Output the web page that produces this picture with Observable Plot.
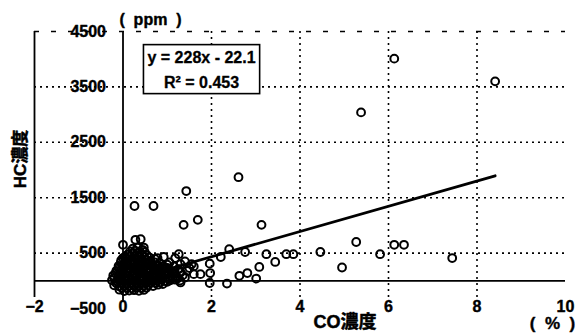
<!DOCTYPE html>
<html><head><meta charset="utf-8">
<script src="https://cdn.jsdelivr.net/npm/d3@7"></script>
<script src="https://cdn.jsdelivr.net/npm/@observablehq/plot@0.6"></script>
<style>
body{margin:0;background:#fff;}
#chart{position:relative;width:585px;height:333px;}
</style></head><body><div id="chart"></div>
<script>
// Scattered points (CO %, HC ppm)
const outlierCO = [6.13,8.41,5.38,2.61,1.43,0.26,0.69,1.37,1.69,3.13,5.27,6.13,6.35,4.46,3.69,3.85,5.81,4.95,7.44,3.24,3.44,3.08,2.76,2.81,2.63,3.01,2.35,2.40,2.21,1.96,1.97,1.96,1.75,1.60,1.26,1.18,0.92,0.78,0.00,0.28,0.40,0.47,0.00,1.30,1.30,1.45];
const outlierHC = [4010,3600,3040,1870,1620,1350,1350,1010,1100,1010,700,650,650,520,480,480,480,240,410,480,340,250,520,140,90,40,-50,570,430,310,140,-40,120,120,480,410,430,410,650,740,750,600,410,300,-30,180];
// Dense cluster near the origin [CO, HC]
const clusterPoints = [
  [-0.08,-160],[0.03,-185],[0.14,-175],[0.25,-170],[0.36,-180],[0.47,-165],
  [-0.02,-130],[0.09,-125],[0.2,-135],[0.31,-120],[0.42,-130],[0.53,-125],
  [-0.2,-80],[-0.09,-100],[0.02,-90],[0.13,-95],[0.24,-85],[0.35,-100],[0.46,-90],[0.57,-80],[0.68,-95],[0.79,-70],[0.9,-60],
  [-0.15,-45],[-0.04,-40],[0.07,-50],[0.18,-45],[0.29,-40],[0.4,-50],[0.51,-45],[0.62,-35],[0.73,-40],[0.84,-30],[1.0,-20],
  [-0.25,10],[-0.14,-10],[-0.03,5],[0.08,-5],[0.19,15],[0.3,0],[0.41,10],[0.52,-10],[0.63,5],[0.74,0],[0.85,15],[0.96,-5],[1.07,10],[1.18,20],[1.29,5],
  [-0.2,50],[-0.09,45],[0.02,55],[0.13,40],[0.24,50],[0.35,45],[0.46,55],[0.57,40],[0.68,50],[0.79,45],[0.9,55],[1.01,45],[1.12,50],[1.23,40],
  [-0.22,95],[-0.11,80],[0,100],[0.11,85],[0.22,95],[0.33,110],[0.44,90],[0.55,80],[0.66,100],[0.77,95],[0.88,85],[0.99,105],[1.1,90],[1.21,80],[1.35,100],
  [-0.17,135],[-0.06,140],[0.05,130],[0.16,145],[0.27,135],[0.38,140],[0.49,130],[0.6,145],[0.71,135],[0.82,140],[0.93,130],[1.04,145],[1.15,125],
  [-0.15,180],[-0.04,195],[0.07,175],[0.18,185],[0.29,200],[0.4,180],[0.51,190],[0.62,170],[0.73,185],[0.84,200],[0.95,175],[1.06,190],[1.17,165],[1.25,210],
  [-0.1,230],[0.01,235],[0.12,225],[0.23,240],[0.34,230],[0.45,235],[0.56,225],[0.67,240],[0.78,230],[0.89,220],[1.0,235],
  [-0.1,270],[0.01,290],[0.12,280],[0.23,300],[0.34,275],[0.45,285],[0.56,295],[0.67,270],[0.78,280],[0.89,260],[1.0,290],
  [-0.05,330],[0.06,335],[0.17,325],[0.28,340],[0.39,330],[0.5,335],[0.61,320],[0.72,330],[0.83,320],
  [-0.04,370],[0.07,390],[0.18,380],[0.29,400],[0.4,370],[0.51,385],[0.62,360],[0.72,395],
  [0.04,430],[0.15,435],[0.26,440],[0.37,425],[0.48,430],[0.6,420],
  [0.1,470],[0.21,490],[0.32,500],[0.43,475],[0.54,460],
  [0.16,530],[0.27,545],[0.38,530],[0.49,520],
  [0.22,580],[0.33,600],[0.44,560],
  [1.05,330],[1.15,260],[1.4,350],[1.55,300],[1.5,230],[1.3,150],[1.6,260],[0.95,240],[1.4,60]
];
const xTicks = [-2,0,2,4,6,8,10];
const yTicks = [-500,500,1500,2500,3500,4500];
const gridX = [2,4,6,8];
const gridY = [500,1500,2500,3500];
const slope = 228, intercept = -22.1;
const fitLabel = ["y = 228x - 22.1", "R\u00b2 = 0.453"];

const pts = outlierCO.map((x,i)=>({x, y: outlierHC[i]}))
  .concat(clusterPoints.map(([x,y])=>({x,y})));
const fitX = [0, d3.max(pts, d=>d.x)];
const font = "'Liberation Sans', Arial, 'Noto Sans CJK JP', sans-serif";
const dotted = {stroke:"black", strokeWidth:1.6, strokeDasharray:"2,4"};

const plot = Plot.plot({
  width:585, height:333,
  marginLeft:34, marginRight:20, marginTop:31, marginBottom:25,
  x:{domain:[-2,10], axis:null},
  y:{domain:[-500,4500], axis:null},
  style:{fontFamily:font, fontWeight:"bold", fontSize:"16px", color:"black", background:"white", overflow:"visible"},
  marks:[
    Plot.ruleX(gridX, {y1:-300, y2:4500, ...dotted}),
    Plot.ruleY(gridY, {x1:-2, x2:10, ...dotted}),
    Plot.ruleY([4500], {x1:-2, x2:10, stroke:"black", strokeWidth:1.4, strokeDasharray:"5,12"}),
    Plot.ruleX([-2], {y1:-300, y2:4500, stroke:"black", strokeWidth:1.8}),
    Plot.ruleX([0], {y1:-380, y2:4500, stroke:"black", strokeWidth:1.8}),
    Plot.ruleY([0], {x1:-2, x2:10, stroke:"black", strokeWidth:1.8}),
    Plot.line(fitX, {x:d=>d, y:d=>slope*d+intercept, stroke:"black", strokeWidth:2.8}),
    Plot.dot(pts, {x:"x", y:"y", r:3.9, stroke:"black", strokeWidth:2, fill:"none"}),
    Plot.text(yTicks, {x:0, y:d=>d, text:d=>String(d).replace("-","\u2212"), textAnchor:"end", dx:-17, fill:"black", stroke:"black", strokeWidth:0.4}),
    Plot.text(xTicks, {x:d=>d, y:-500, text:d=>String(d).replace("-","\u2212"), dy:-2, fill:"black", stroke:"black", strokeWidth:0.4}),
    Plot.text(["(  ppm  )"], {frameAnchor:"top-left", textAnchor:"middle", lineAnchor:"middle", dx:116, dy:-12, fill:"black", stroke:"black", strokeWidth:0.4}),
    Plot.text(["HC濃度"], {frameAnchor:"left", textAnchor:"middle", lineAnchor:"middle", rotate:-90, dx:-14, dy:-11, fill:"black", stroke:"black", strokeWidth:0.5, fontSize:17}),
    Plot.text(["CO濃度"], {frameAnchor:"bottom", textAnchor:"middle", lineAnchor:"middle", dx:45, dy:14, fill:"black", stroke:"black", strokeWidth:0.5, fontSize:18}),
    Plot.text(["(  %  )"], {frameAnchor:"bottom-right", textAnchor:"middle", lineAnchor:"middle", dx:-13, dy:15, fill:"black", stroke:"black", strokeWidth:0.4, fontSize:17}),
    Plot.text([fitLabel[0]], {frameAnchor:"top-left", textAnchor:"middle", lineAnchor:"middle", dx:167, dy:26, fill:"black", stroke:"black", strokeWidth:0.3, fontSize:16, className:"fitlabel"}),
    Plot.text([fitLabel[1]], {frameAnchor:"top-left", textAnchor:"middle", lineAnchor:"middle", dx:167, dy:51, fill:"black", stroke:"black", strokeWidth:0.3, fontSize:16, className:"fitlabel"})
  ]
});
document.getElementById("chart").append(plot);

// Box around the regression annotation
const svgRect = plot.getBoundingClientRect();
const groups = plot.querySelectorAll("g.fitlabel");
let x0=Infinity,y0=Infinity,x1=-Infinity,y1=-Infinity;
groups.forEach(g=>{const r=g.getBoundingClientRect(); x0=Math.min(x0,r.left); y0=Math.min(y0,r.top); x1=Math.max(x1,r.right); y1=Math.max(y1,r.bottom);});
x0-=svgRect.left; x1-=svgRect.left; y0-=svgRect.top; y1-=svgRect.top;
const rect = document.createElementNS("http://www.w3.org/2000/svg","rect");
rect.setAttribute("x", x0-4); rect.setAttribute("y", y0-4);
rect.setAttribute("width", x1-x0+8); rect.setAttribute("height", y1-y0+7);
rect.setAttribute("fill","white"); rect.setAttribute("stroke","black"); rect.setAttribute("stroke-width","1.6");
groups[0].parentNode.insertBefore(rect, groups[0]);
</script></body></html>
